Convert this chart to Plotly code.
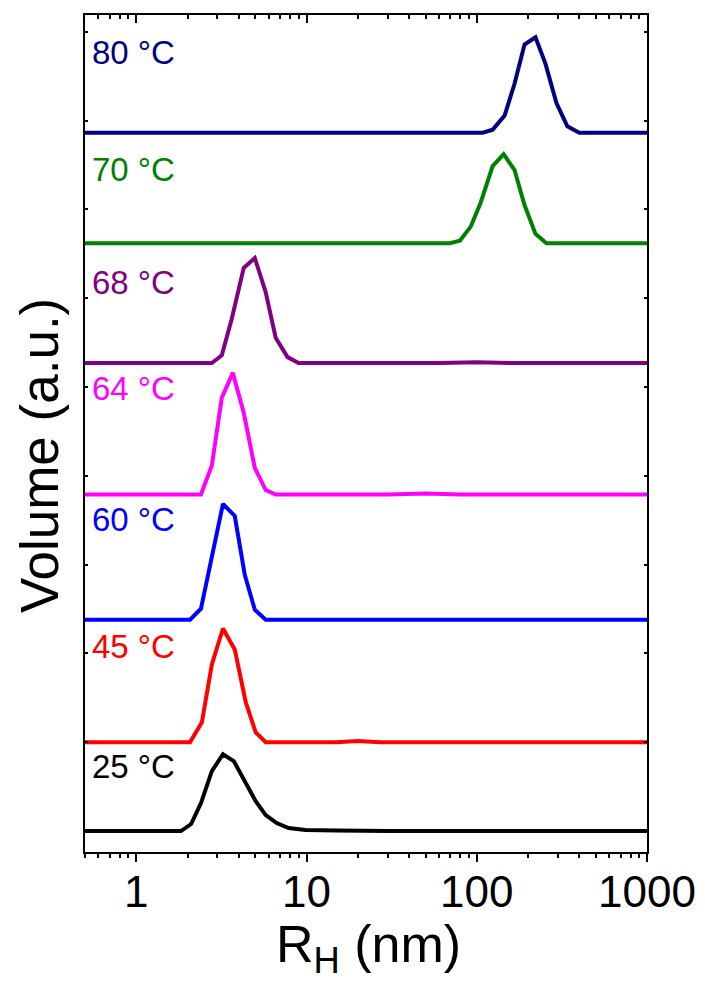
import plotly.graph_objects as go

# Temperatures (labels), colours and vertical offsets of each stacked curve
labels = ["25 °C", "45 °C", "60 °C", "64 °C", "68 °C", "70 °C", "80 °C"]
colors = ["#000000", "#FF0000", "#0000FF", "#FF00FF", "#800080", "#008000", "#000080"]
offsets = [0.0, 1.0, 2.38, 3.79, 5.27, 6.62, 7.865]
label_y = [0.73, 2.08, 3.51, 4.98, 6.18, 7.45, 8.77]

# R_H (nm) and volume (a.u.) for each temperature
x25 = [0.5, 1.83, 2.10, 2.40, 2.78, 3.23, 3.74, 4.40, 5.03, 5.76, 6.68, 7.85, 9.86, 15, 30, 1000]
y25 = [0, 0, 0.079, 0.315, 0.674, 0.865, 0.787, 0.551, 0.337, 0.180, 0.090, 0.034, 0.012, 0.006, 0, 0]

x45 = [0.5, 2.07, 2.43, 2.78, 3.23, 3.79, 4.40, 5.03, 5.76, 15, 20, 27, 1000]
y45 = [0, 0, 0.224, 0.876, 1.281, 1.045, 0.449, 0.111, 0, 0, 0.015, 0, 0]

x60 = [0.5, 2.07, 2.40, 2.75, 3.23, 3.79, 4.34, 4.97, 5.76, 1000]
y60 = [0, 0, 0.124, 0.652, 1.303, 1.169, 0.506, 0.112, 0, 0]

x64 = [0.5, 2.40, 2.78, 3.18, 3.69, 4.28, 4.97, 5.76, 6.59, 30, 50, 80, 1000]
y64 = [0, 0, 0.326, 1.09, 1.37, 0.92, 0.30, 0.05, 0, 0, 0.012, 0, 0]

x68 = [0.5, 2.78, 3.18, 3.64, 4.28, 4.97, 5.76, 6.59, 7.74, 8.98, 60, 100, 160, 1000]
y68 = [0, 0, 0.087, 0.499, 1.072, 1.184, 0.798, 0.285, 0.067, 0, 0, 0.01, 0, 0]

x70 = [0.5, 69.5, 79.6, 92.2, 105.4, 124, 143.9, 166.7, 190.8, 221.3, 256.6, 1000]
y70 = [0, 0, 0.029, 0.187, 0.456, 0.869, 1.003, 0.824, 0.430, 0.105, 0, 0]

x80 = [0.5, 108.4, 124, 145.9, 166.7, 190.8, 221.3, 253.4, 293.8, 340.6, 400, 1000]
y80 = [0, 0, 0.034, 0.194, 0.551, 0.992, 1.074, 0.775, 0.333, 0.071, 0, 0]

xs = [x25, x45, x60, x64, x68, x70, x80]
ys = [y25, y45, y60, y64, y68, y70, y80]

x_ticks = [1, 10, 100, 1000]

FONT = "Liberation Sans, Arial, sans-serif"

# plot area in page pixels (page body has an 8 px margin)
PL, PR, PT, PB = 85, 647, 13, 852
PW, PH = PR - PL, PB - PT
BODY = 8

fig = go.Figure()
for xv, yv, off, col in zip(xs, ys, offsets, colors):
    fig.add_trace(go.Scatter(
        x=xv, y=[off + v for v in yv], mode="lines",
        line=dict(color=col, width=4), showlegend=False, hoverinfo="skip",
    ))

# empty trace so the top (inside-tick) axis is rendered
fig.add_trace(go.Scatter(x=[], y=[], xaxis="x2", showlegend=False))

for lab, ly, col in zip(labels, label_y, colors):
    fig.add_annotation(
        x=(90 - PL) / PW, xref="paper", y=ly, yref="y", text=lab, showarrow=False,
        xanchor="left", yanchor="middle",
        font=dict(family=FONT, size=33, color=col),
    )

fig.add_annotation(
    x=(368 - PL) / PW, xref="paper", y=(PB - 948) / PH, yref="paper",
    text="R<sub>H</sub> (nm)", showarrow=False, xanchor="center", yanchor="middle",
    font=dict(family=FONT, size=52, color="black"),
)
fig.add_annotation(
    x=(40 - PL) / PW, xref="paper", y=(PB - 455) / PH, yref="paper",
    text="Volume (a.u.)", showarrow=False, textangle=-90, xanchor="center", yanchor="middle",
    font=dict(family=FONT, size=53, color="black"),
)

xr = [-0.30103, 3.0]
W, H = 705 - BODY, 986 - BODY
fig.update_layout(
    width=W, height=H,
    margin=dict(l=PL - BODY, r=W - (PR - BODY), t=PT - BODY, b=H - (PB - BODY)),
    paper_bgcolor="white", plot_bgcolor="white",
    font=dict(family=FONT, color="black"),
    xaxis=dict(
        type="log", range=xr, tickvals=x_ticks, ticktext=[str(t) for t in x_ticks],
        ticks="outside", ticklen=8, tickwidth=2, tickcolor="black",
        showline=True, linewidth=2, linecolor="black", mirror=True,
        showgrid=False, zeroline=False, ticklabelstandoff=-8,
        tickfont=dict(family=FONT, size=44, color="black"),
        minor=dict(ticks="outside", ticklen=4, tickwidth=1.5, tickcolor="black",
                   dtick="D1", showgrid=False),
    ),
    xaxis2=dict(
        type="log", range=xr, overlaying="x", side="top", anchor="y",
        tickvals=x_ticks, showticklabels=False,
        ticks="inside", ticklen=8, tickwidth=2, tickcolor="black",
        showline=False, showgrid=False, zeroline=False,
        minor=dict(ticks="inside", ticklen=4, tickwidth=1.5, tickcolor="black",
                   dtick="D1", showgrid=False),
    ),
    yaxis=dict(
        range=[-0.236, 9.19], dtick=1, tick0=0, showticklabels=False,
        ticks="inside", ticklen=3, tickwidth=1.5, tickcolor="black",
        showline=True, linewidth=2, linecolor="black", mirror="ticks",
        showgrid=False, zeroline=False,
    ),
)

fig.write_html("out.html")
